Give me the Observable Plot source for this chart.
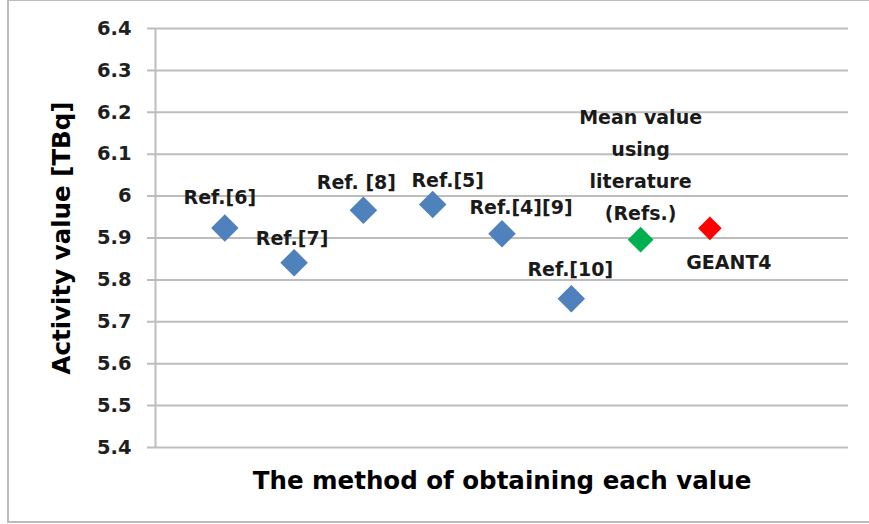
<!DOCTYPE html>
<html>
<head>
<meta charset="utf-8">
<script src="https://cdn.jsdelivr.net/npm/d3@7"></script>
<script src="https://cdn.jsdelivr.net/npm/@observablehq/plot@0.6"></script>
<style>
  html, body { margin: 0; padding: 0; background: #fff; }
  #wrap { position: relative; width: 869px; height: 524px; overflow: hidden; }
  #border { position: absolute; left: 7px; top: -1px; width: 900px; height: 520px; border: 2px solid #bcbcbc; pointer-events: none; }
  svg { position: absolute; left: 0; top: 0; }
</style>
</head>
<body>
<div id="wrap"><div id="border"></div></div>
<script>
// ---- data ----
const categories = ["Ref.[6]", "Ref.[7]", "Ref. [8]", "Ref.[5]", "Ref.[4][9]", "Ref.[10]", "Mean value\nusing\nliterature\n(Refs.)", "GEANT4"];
const xValues = [1, 2, 3, 4, 5, 6, 7, 8];
const activity = [5.924, 5.841, 5.966, 5.980, 5.910, 5.755, 5.896, 5.923];
const groups = ["Literature", "Literature", "Literature", "Literature", "Literature", "Literature", "Mean", "GEANT4"];
const groupNames = ["Literature", "Mean", "GEANT4"];
const groupColors = ["#4F81BD", "#00B050", "#FF0000"];
const yTicks = [5.4, 5.5, 5.6, 5.7, 5.8, 5.9, 6.0, 6.1, 6.2, 6.3, 6.4];
const yTickLabels = ["5.4", "5.5", "5.6", "5.7", "5.8", "5.9", "6", "6.1", "6.2", "6.3", "6.4"];
const xTitle = "The method of obtaining each value";
const yTitle = "Activity value [TBq]";

// label placement (pixel offsets from each marker)
const labelOffsets = [
  {dx: -5, dy: -34}, {dx: -2, dy: -28}, {dx: -7, dy: -32}, {dx: 15, dy: -28},
  {dx: 19, dy: -30}, {dx: -1, dy: -33}, {dx: 0, dy: -78}, {dx: 19, dy: 30}
];
// marker size per group
const markerR = {"Literature": 12.4, "Mean": 11.6, "GEANT4": 10.6};

const data = categories.map((c, i) => ({label: c, x: xValues[i], y: activity[i], group: groups[i]}));

const font = "'DejaVu Sans', sans-serif";
const gridColor = "#bdbdbd";

const labelMarks = data.map((d, i) => Plot.text([d], {
  x: "x", y: "y", text: "label",
  dx: labelOffsets[i].dx, dy: labelOffsets[i].dy,
  fontSize: 19, fontWeight: "bold", fill: "#1a1a1a",
  lineHeight: 1.7
}));

const dotMarks = groupNames.map(g => Plot.dot(data.filter(d => d.group === g), {
  x: "x", y: "y", fill: "group", symbol: "diamond2", r: markerR[g], stroke: "none"
}));

const chart = Plot.plot({
  width: 869,
  height: 524,
  marginLeft: 155,
  marginRight: 21,
  marginTop: 28,
  marginBottom: 77,
  style: {fontFamily: font, background: "transparent"},
  x: {domain: [0, 10], axis: null},
  y: {domain: [5.4, 6.4], axis: null},
  color: {domain: groupNames, range: groupColors},
  marks: [
    Plot.gridY(yTicks, {stroke: gridColor, strokeOpacity: 1, strokeWidth: 2, insetLeft: -8}),
    Plot.ruleX([0], {stroke: gridColor, strokeWidth: 2}),
    Plot.axisY(yTicks, {
      tickSize: 0, tickPadding: 24,
      tickFormat: (d, i) => yTickLabels[i],
      fontSize: 19.5, fontWeight: "bold", fill: "#1f1f1f", label: null
    }),
    ...dotMarks,
    ...labelMarks,
    Plot.text([xTitle], {frameAnchor: "bottom", dy: 41, fontSize: 24.5, fontWeight: "bold", fill: "#000"}),
    Plot.text([yTitle], {frameAnchor: "left", textAnchor: "middle", dx: -93, rotate: -90, fontSize: 24.5, fontWeight: "bold", fill: "#000"})
  ]
});

document.getElementById("wrap").prepend(chart);
</script>
</body>
</html>
